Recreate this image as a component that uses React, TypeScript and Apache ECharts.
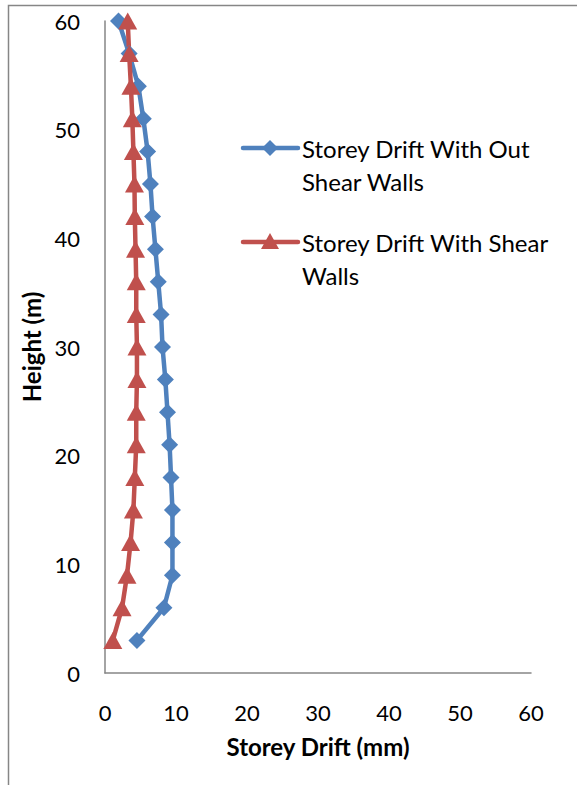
import React, { useEffect, useRef } from "react";
import * as echarts from "echarts";

const heights = [3, 6, 9, 12, 15, 18, 21, 24, 27, 30, 33, 36, 39, 42, 45, 48, 51, 54, 57, 60];
const driftWithoutWalls = [4.5, 8.3, 9.5, 9.5, 9.5, 9.3, 9.1, 8.8, 8.5, 8.1, 7.9, 7.5, 7.1, 6.7, 6.4, 6.0, 5.4, 4.7, 3.4, 1.9];
const driftWithWalls = [1.1, 2.4, 3.1, 3.6, 4.0, 4.2, 4.4, 4.4, 4.5, 4.5, 4.4, 4.4, 4.3, 4.2, 4.15, 4.0, 3.85, 3.65, 3.4, 3.2];
const seriesNames = ["Storey Drift With Out\nShear Walls", "Storey Drift With Shear\nWalls"];
const xTitle = "Storey Drift (mm)";
const yTitle = "Height (m)";

const FONT = "Lato, 'Open Sans', sans-serif";
const BLUE = "#4F81BD";
const RED = "#C0504D";
const AXIS = "#868686";

export default function App() {
  const ref = useRef<HTMLDivElement>(null);
  useEffect(() => {
    if (!ref.current) return;
    const chart = echarts.init(ref.current, undefined, { renderer: "svg" });
    const legendX = 243;
    const legendRows = [148, 242];
    const legendGraphics: any[] = [];
    const colors = [BLUE, RED];
    legendRows.forEach((y, i) => {
      legendGraphics.push({
        type: "line",
        shape: { x1: legendX, y1: y, x2: legendX + 55, y2: y },
        style: { stroke: colors[i], lineWidth: 4.5, lineCap: "round" },
      });
      const cx = legendX + 27;
      if (i === 0) {
        legendGraphics.push({
          type: "polygon",
          shape: { points: [[cx, y - 8], [cx + 8, y], [cx, y + 8], [cx - 8, y]] },
          style: { fill: colors[i] },
        });
      } else {
        legendGraphics.push({
          type: "polygon",
          shape: { points: [[cx, y - 9], [cx + 9, y + 7], [cx - 9, y + 7]] },
          style: { fill: colors[i] },
        });
      }
      legendGraphics.push({
        type: "text",
        x: legendX + 59,
        y: y - 16.5,
        style: {
          text: seriesNames[i],
          font: `24px ${FONT}`,
          fill: "#000",
          lineHeight: 33,
          textVerticalAlign: "top",
        },
      });
    });

    chart.setOption({
      animation: false,
      backgroundColor: "#fff",
      grid: { left: 105, right: 46, top: 21, bottom: 112, containLabel: false },
      xAxis: {
        type: "value",
        min: 0,
        max: 60,
        interval: 10,
        name: xTitle,
        nameLocation: "middle",
        nameGap: 61,
        nameTextStyle: { fontFamily: FONT, fontSize: 24, fontWeight: "bold", color: "#000" },
        axisLine: { show: true, lineStyle: { color: AXIS, width: 1.5 } },
        axisTick: { show: false },
        splitLine: { show: false },
        axisLabel: { fontFamily: FONT, fontSize: 22, color: "#000", margin: 28 },
      },
      yAxis: {
        type: "value",
        min: 0,
        max: 60,
        interval: 10,
        name: yTitle,
        nameLocation: "middle",
        nameGap: 62,
        nameRotate: 90,
        nameTextStyle: { fontFamily: FONT, fontSize: 24, fontWeight: "bold", color: "#000" },
        axisLine: { show: true, lineStyle: { color: AXIS, width: 1.5 } },
        axisTick: { show: false },
        splitLine: { show: false },
        axisLabel: { fontFamily: FONT, fontSize: 22, color: "#000", margin: 25 },
      },
      series: [
        {
          name: seriesNames[0],
          type: "line",
          data: heights.map((h, i) => [driftWithoutWalls[i], h]),
          symbol: "diamond",
          symbolSize: 17,
          lineStyle: { color: BLUE, width: 4.5 },
          itemStyle: { color: BLUE },
          clip: false,
        },
        {
          name: seriesNames[1],
          type: "line",
          data: heights.map((h, i) => [driftWithWalls[i], h]),
          symbol: "triangle",
          symbolSize: [19, 17],
          lineStyle: { color: RED, width: 4.5 },
          itemStyle: { color: RED },
          clip: false,
        },
      ],
      graphic: [
        {
          type: "polyline",
          shape: { points: [[8.5, 785], [8.5, 5.5], [577, 5.5]] },
          style: { stroke: AXIS, lineWidth: 1.5, fill: "none" },
        },
        ...legendGraphics,
      ],
    });
    return () => chart.dispose();
  }, []);
  return <div ref={ref} style={{ width: 577, height: 785, position: "absolute", left: 0, top: 0 }} />;
}
